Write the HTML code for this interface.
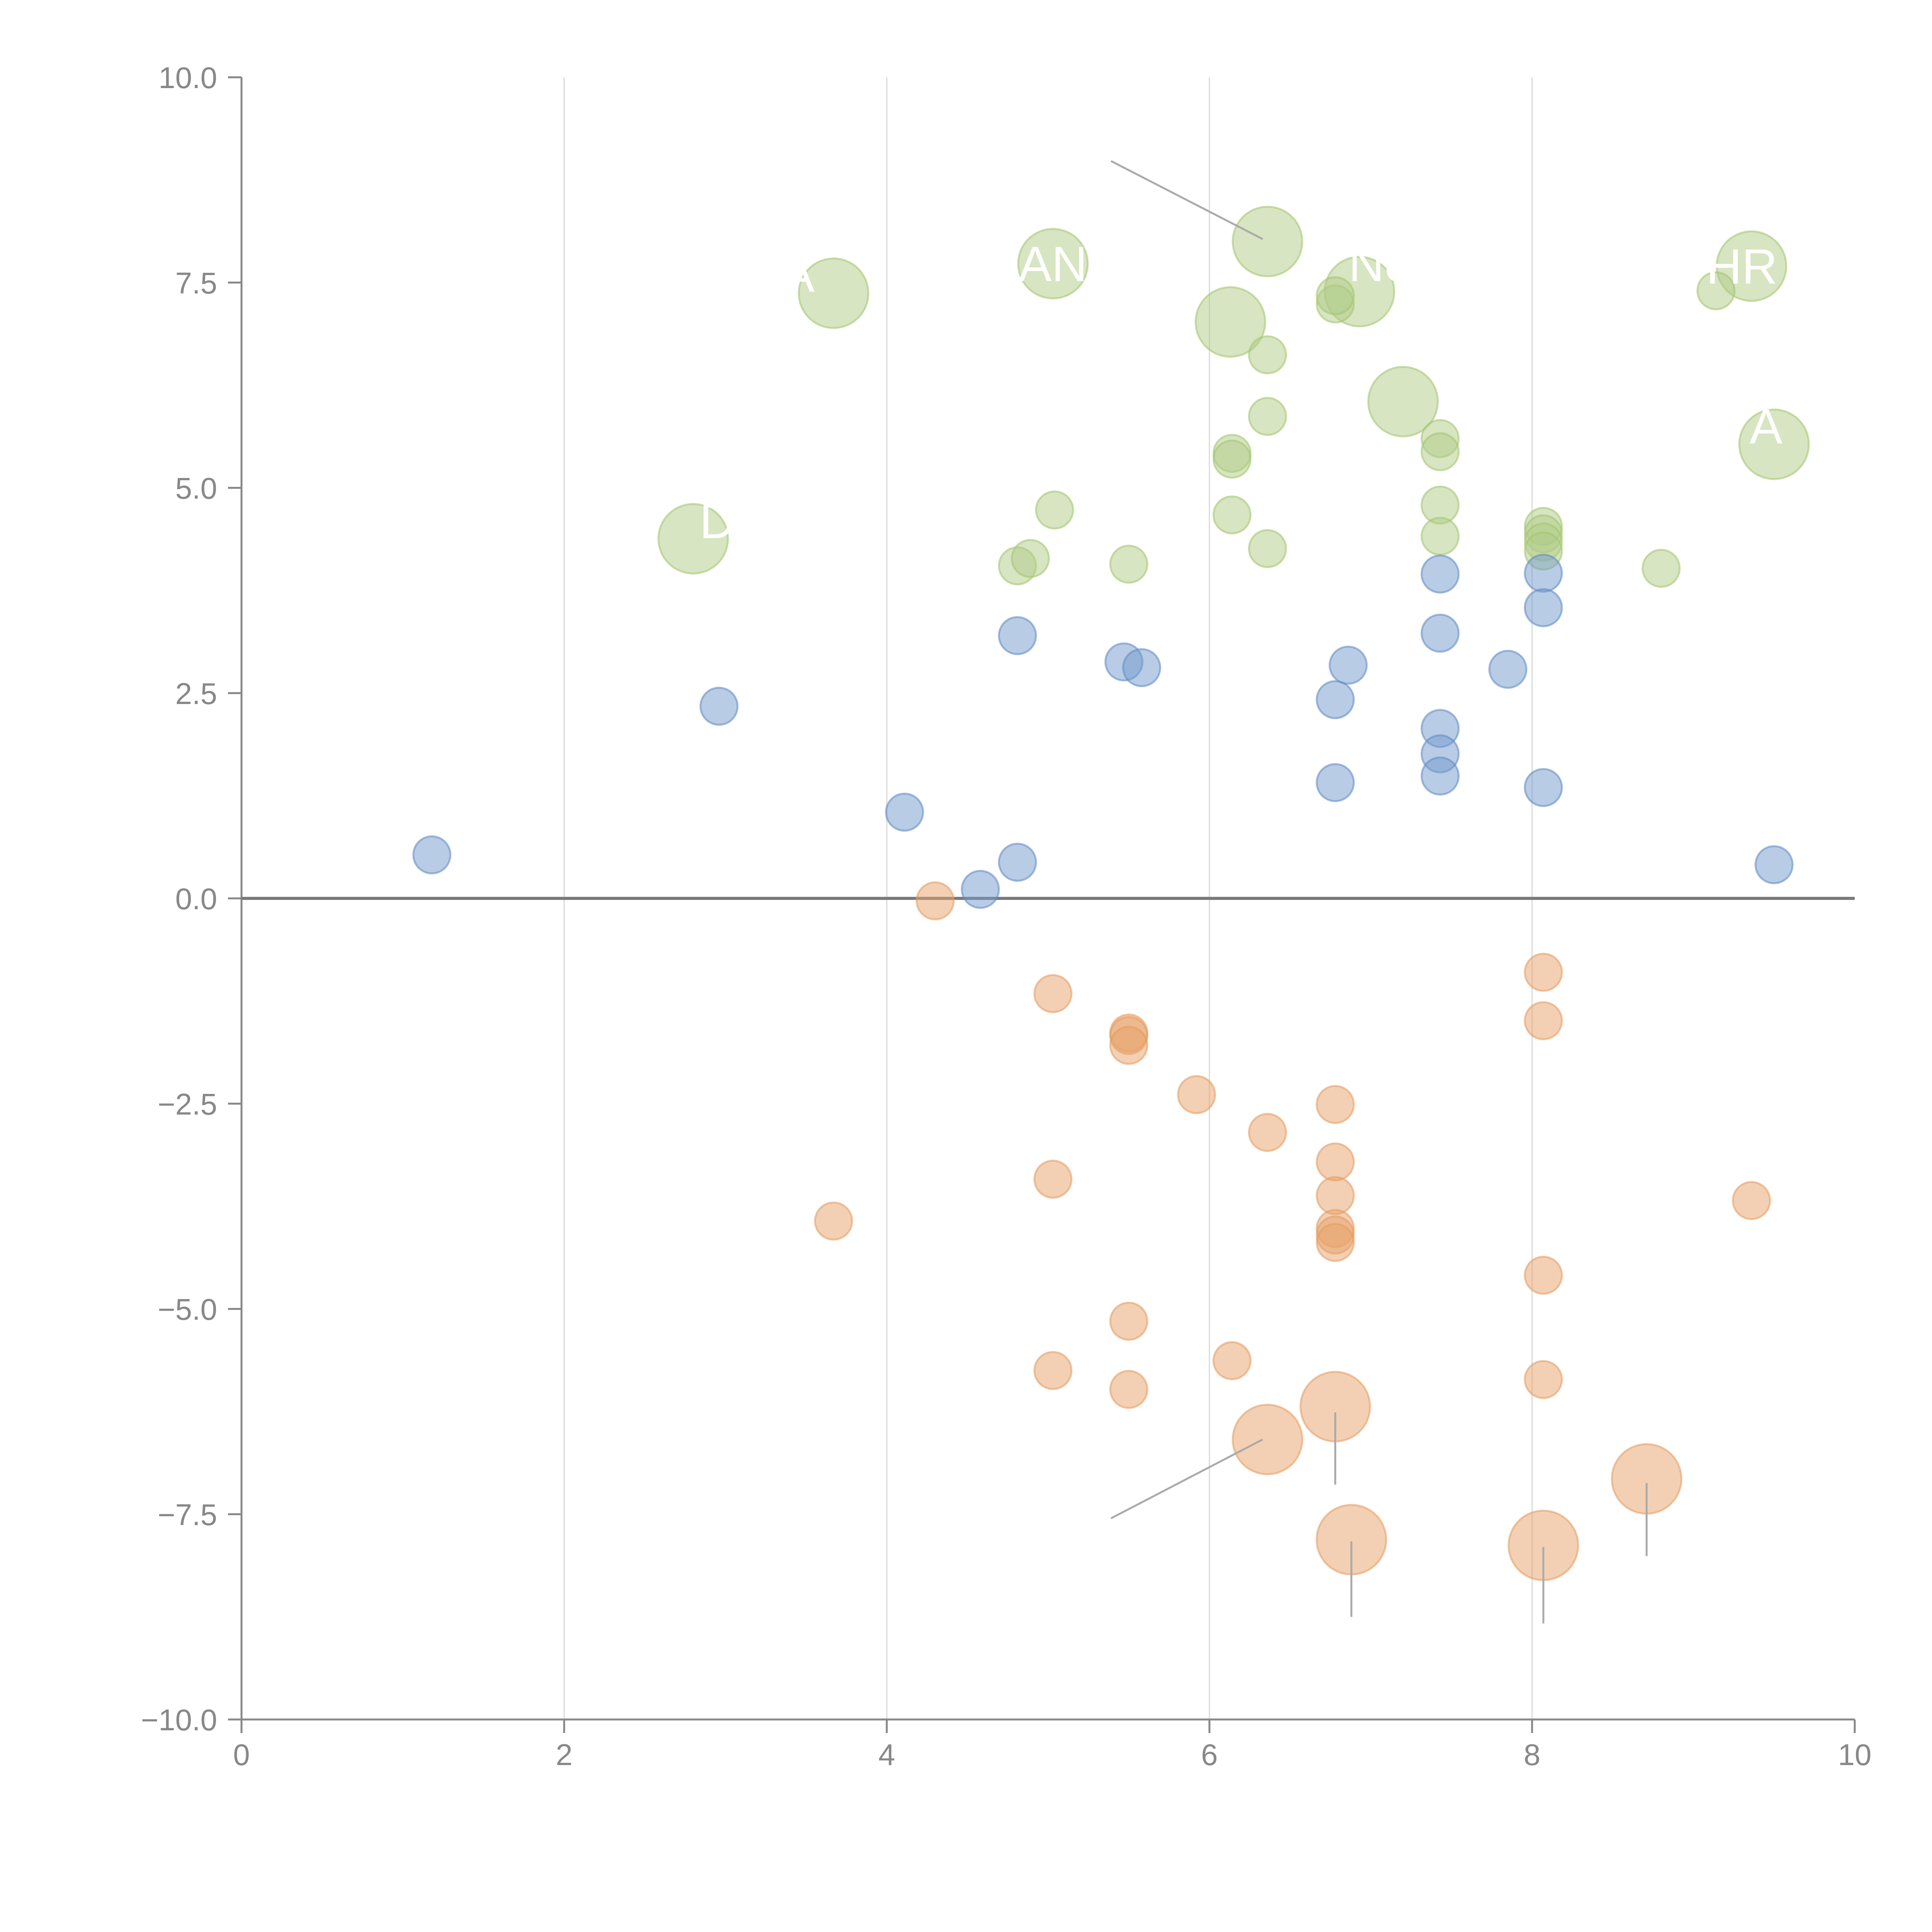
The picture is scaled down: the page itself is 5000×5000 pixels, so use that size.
<!DOCTYPE html>
<html><head><meta charset="utf-8"><style>
html,body{margin:0;padding:0;background:#fff;}
svg{display:block;font-family:"Liberation Sans",Arial,sans-serif;}
</style></head><body>
<svg id="chart" width="5000" height="5000" viewBox="0 0 5000 5000" xmlns="http://www.w3.org/2000/svg">
<rect width="5000" height="5000" fill="#fff"/>
<g id="grid"></g>
<g id="axes"></g>
<g id="marks"></g>
<g id="annot"></g>
</svg>
<script>
const xTicks = [0, 2, 4, 6, 8, 10];
const yTicks = [10, 7.5, 5, 2.5, 0, -2.5, -5, -7.5, -10];
const yTickLabels = ["10.0", "7.5", "5.0", "2.5", "0.0", "\u22122.5", "\u22125.0", "\u22127.5", "\u221210.0"];

const greenX = [3.67,5.03,6.36,6.93,6.13,7.20,9.36,9.50,2.80, 6.78,6.78,6.36,6.36,6.14,6.14,6.14,7.43,7.43,7.43,7.43,5.04,6.36,4.81,4.89,5.50,8.07,8.07,8.07,8.07,8.80,9.14];
const greenY = [7.37,7.73,8.00,7.39,7.02,6.05,7.70,5.53,4.38, 7.24,7.34,6.62,5.87,5.42,5.35,4.67,5.60,5.44,4.79,4.41,4.73,4.26,4.05,4.14,4.07,4.53,4.44,4.34,4.23,4.02,7.40];
const greenSize = [3,3,3,3,3,3,3,3,3, 1,1,1,1,1,1,1,1,1,1,1,1,1,1,1,1,1,1,1,1,1,1];

const blueX = [1.18,2.96,4.11,4.58,4.81,4.81,5.47,5.58,6.78,6.78,6.86,7.43,7.43,7.43,7.43,7.43,7.85,8.07,8.07,8.07,9.50];
const blueY = [0.53,2.34,1.05,0.11,0.44,3.20,2.88,2.81,2.42,1.41,2.84,3.95,3.23,2.07,1.76,1.49,2.79,3.96,3.54,1.35,0.41];
const blueSize = [1,1,1,1,1,1,1,1,1,1,1,1,1,1,1,1,1,1,1,1,1];

const orangeX = [4.30,5.03,5.03,5.03,5.50,5.50,5.50,5.50,5.50,5.92,6.36,3.67,6.78,6.78,6.78,6.78,6.78,6.78,8.07,8.07,8.07,8.07,9.36,6.14, 6.78,6.36,6.88,8.07,8.71];
const orangeY = [-0.03,-1.16,-3.42,-5.75,-1.64,-1.67,-1.79,-5.15,-5.98,-2.39,-2.85,-3.93,-2.51,-3.21,-3.62,-4.02,-4.10,-4.19,-0.90,-1.49,-4.59,-5.86,-3.68,-5.63, -6.19,-6.59,-7.81,-7.88,-7.07];
const orangeSize = [1,1,1,1,1,1,1,1,1,1,1,1,1,1,1,1,1,1,1,1,1,1,1,1, 3,3,3,3,3];

const leaderX1 = [5.39,5.39,6.78,6.88,8.07,8.71];
const leaderY1 = [8.98,-7.55,-6.26,-7.83,-7.90,-7.12];
const leaderX2 = [6.33,6.33,6.78,6.88,8.07,8.71];
const leaderY2 = [8.03,-6.59,-7.14,-8.75,-8.83,-8.01];

const labelText = ["A","AN","Nc","HR","A","D"];
const labelX = [3.45,5.03,7.05,9.30,9.45,2.95];
const labelY = [7.6,7.73,7.73,7.70,5.75,4.6];

const X0=625, X1=4800, Y0=4450, Y1=200;
function sx(v){return X0+(v-0)/(10-0)*(X1-X0);}
function sy(v){return Y0-(v+10)/20*(Y0-Y1);}
function rad(s){return s>1 ? 90 : 48;}
const NS="http://www.w3.org/2000/svg";
function mk(tag,attrs,parent){const e=document.createElementNS(NS,tag);for(const k in attrs)e.setAttribute(k,attrs[k]);parent.appendChild(e);return e;}

const grid=document.getElementById('grid'), axes=document.getElementById('axes'), marks=document.getElementById('marks'), annot=document.getElementById('annot');

xTicks.forEach(t=>{
  if(t>0&&t<10){const g=mk('line',{x1:sx(t),x2:sx(t),y1:sy(10),y2:sy(-10),stroke:'#d8d8d8','stroke-width':3},grid);
  
  }
  const tk=mk('line',{x1:sx(t),x2:sx(t),y1:Y0,y2:Y0+35,stroke:'#888','stroke-width':5},axes);
  
  
  const lb=mk('text',{x:sx(t),y:Y0+118,'text-anchor':'middle','font-size':78,fill:'#888'},axes);
  lb.textContent=t;
  
  
});
yTicks.forEach((t,i)=>{
  const tk=mk('line',{x1:X0-35,x2:X0,y1:sy(t),y2:sy(t),stroke:'#888','stroke-width':5},axes);
  
  
  const lb=mk('text',{x:562,y:sy(t)+28,'text-anchor':'end','font-size':78,fill:'#888'},axes);
  lb.textContent=yTickLabels[i];
  
  
});
const ya=mk('line',{x1:X0,x2:X0,y1:Y1,y2:Y0,stroke:'#888','stroke-width':5},axes);


const xa=mk('line',{x1:X0,x2:X1,y1:Y0,y2:Y0,stroke:'#888','stroke-width':5},axes);


const zl=mk('line',{x1:X0,x2:X1,y1:sy(0),y2:sy(0),stroke:'#7a7a7a','stroke-width':8},axes);



function series(xs,ys,ss,fill,stroke,name){
  xs.forEach((x,i)=>{
    const c=mk('circle',{cx:sx(x),cy:sy(ys[i]),r:rad(ss[i]),fill:fill,'fill-opacity':0.5,stroke:stroke,'stroke-opacity':0.55,'stroke-width':5},marks);
    
    
  });
}
series(greenX,greenY,greenSize,'#b0cc85','#a3c46e','green-bubble');
series(blueX,blueY,blueSize,'#7199cc','#5f88c2','blue-bubble');
series(orangeX,orangeY,orangeSize,'#e8a26a','#e39a5e','orange-bubble');

leaderX1.forEach((x,i)=>{
  const l=mk('line',{x1:sx(x),y1:sy(leaderY1[i]),x2:sx(leaderX2[i]),y2:sy(leaderY2[i]),stroke:'#aaa','stroke-width':5},annot);
  
  
});
labelText.forEach((t,i)=>{
  const tx=mk('text',{x:sx(labelX[i]),y:sy(labelY[i])+45,'text-anchor':'middle','font-size':128,fill:'#fff'},annot);
  tx.textContent=t;
  
  
});
</script>
</body></html>
